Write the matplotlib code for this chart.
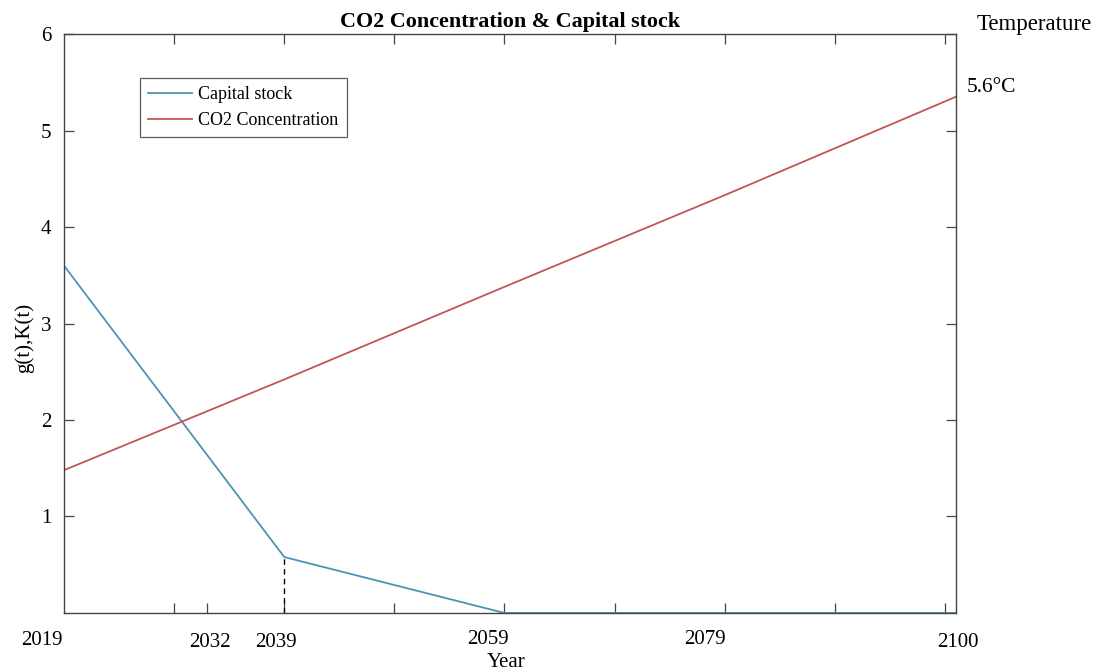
"""
Capital stock K(t) against CO2 concentration g(t), 2019-2100.
"""
import matplotlib
matplotlib.use("Agg")
import matplotlib.pyplot as plt
import numpy as np

plt.rcParams["font.family"] = ["Liberation Serif", "DejaVu Serif"]

# capital stock K(t)
CAP_YEARS = [2019, 2039, 2059, 2100]
CAPITAL = [3.6, 0.58, 0.0, 0.0]

# CO2 concentration g(t)
CO2_YEARS = [2019, 2039, 2059, 2079, 2100]
CO2 = [1.48, 2.42, 3.38, 4.33, 5.35]

# labelled years under the axis
YEAR_LABELS = [2019, 2032, 2039, 2059, 2079, 2100]
TEMP_END = "5.6°C"

BLUE = "#4d93b3"
RED = "#c05656"
AXC = "#444444"


def main():
    fig = plt.figure(figsize=(11.07, 6.72), dpi=100)
    ax = fig.add_axes([0.0578, 0.0878, 0.8058, 0.8616])

    ax.plot(CAP_YEARS, CAPITAL, color=BLUE, lw=1.3, label="Capital stock")
    ax.plot(CO2_YEARS, CO2, color=RED, lw=1.3, label="CO2 Concentration")

    # marker for the 2039 kink
    ax.plot([CAP_YEARS[1], CAP_YEARS[1]], [0, CAPITAL[1]], color="black",
            ls=(0, (4, 3)), lw=1.0)

    ax.set_xlim(2019, 2100)
    ax.set_ylim(0, 6)

    ax.set_xticks(np.arange(2029, 2100, 10))
    ax.set_xticklabels([])
    ax.set_xticks([2032], minor=True)
    ax.set_yticks([1, 2, 3, 4, 5, 6])
    ax.set_yticklabels(["1", "2", "3", "4", "5", "6"])

    ax.tick_params(which="both", direction="in", length=7, width=0.9,
                   colors=AXC, labelcolor="black", labelsize=15,
                   top=True, right=True, pad=8)
    ax.tick_params(which="minor", top=False)
    ax.tick_params(axis="y", which="major", right=True, pad=9)
    for sp in ax.spines.values():
        sp.set_color(AXC)
        sp.set_linewidth(1.0)

    # year labels under the axis
    offsets = {2019: (-16, -20), 2032: (2, -21), 2039: (-6, -21),
               2059: (-12, -19), 2079: (-14, -19), 2100: (1, -21)}
    for yr in YEAR_LABELS:
        dx, dy = offsets[yr]
        ax.annotate(str(yr), xy=(yr, 0), xycoords=("data", "axes fraction"),
                    xytext=(dx, dy), textcoords="offset points",
                    ha="center", va="center", fontsize=15)

    ax.text(0.496, -0.085, "Year", transform=ax.transAxes,
            ha="center", va="center", fontsize=15)
    ax.set_ylabel("g(t),K(t)", fontsize=15)
    ax.yaxis.set_label_coords(-0.034, 0.475)

    ax.set_title("CO2 Concentration & Capital stock", fontsize=15.8,
                 fontweight="bold", pad=5)

    fig.text(0.934, 0.963, "Temperature", ha="center", va="center", fontsize=16.5)
    ax.annotate(TEMP_END, xy=(1.0, CO2[-1]), xycoords=("axes fraction", "data"),
                xytext=(8, 7), textcoords="offset points",
                ha="left", va="center", fontsize=15.5)

    leg = ax.legend(loc="upper left", bbox_to_anchor=(0.085, 0.924),
                    borderaxespad=0, fontsize=13, frameon=True, fancybox=False,
                    handlelength=2.45, handletextpad=0.35, borderpad=0.45,
                    labelspacing=0.5)
    leg.get_frame().set_edgecolor("#333333")
    leg.get_frame().set_linewidth(0.9)

    fig.savefig("out.png", dpi=100)


if __name__ == "__main__":
    main()
